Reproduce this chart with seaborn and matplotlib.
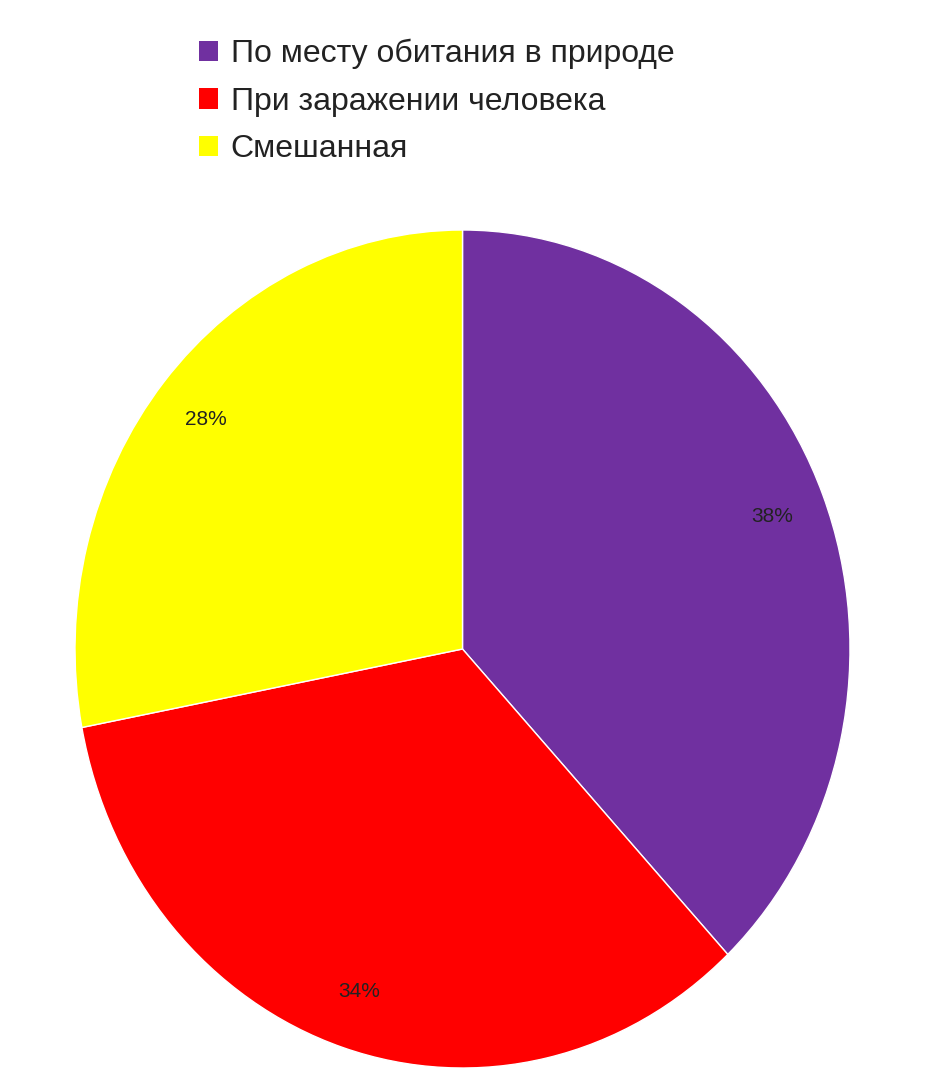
import matplotlib
matplotlib.use("Agg")
import matplotlib.pyplot as plt
import seaborn as sns
from matplotlib.patches import Patch

sns.set_theme(style="white")
plt.rcParams['font.family'] = ['Liberation Sans', 'DejaVu Sans']

categories = ["По месту обитания в природе", "При заражении человека", "Смешанная"]
values = [38, 34, 28]
colors = ["#7030A0", "#FF0000", "#FFFF00"]

fig = plt.figure(figsize=(9.3, 10.9), dpi=100)
ax = fig.add_axes([75/930, 22/1090, 775/930, 838/1090])
wedges, texts, autotexts = ax.pie(values, colors=colors, startangle=90, counterclock=False,
                                  autopct=lambda p: f"{p:.0f}%", pctdistance=0.86,
                                  radius=1.0, textprops=dict(fontsize=15, color="#222222"))
ax.set_aspect("auto")
ax.set_xlim(-1, 1)
ax.set_ylim(-1, 1)
ax.axis("off")

handles = [Patch(facecolor=c, edgecolor="none") for c in colors]
fig.legend(handles, categories, loc="upper left", bbox_to_anchor=(170/930, 1 - 10/1090),
           frameon=False, fontsize=23, handlelength=0.6, handleheight=0.6,
           handletextpad=0.4, labelspacing=0.55, labelcolor="#222222")
fig.savefig("out.png", dpi=100, facecolor="white")
